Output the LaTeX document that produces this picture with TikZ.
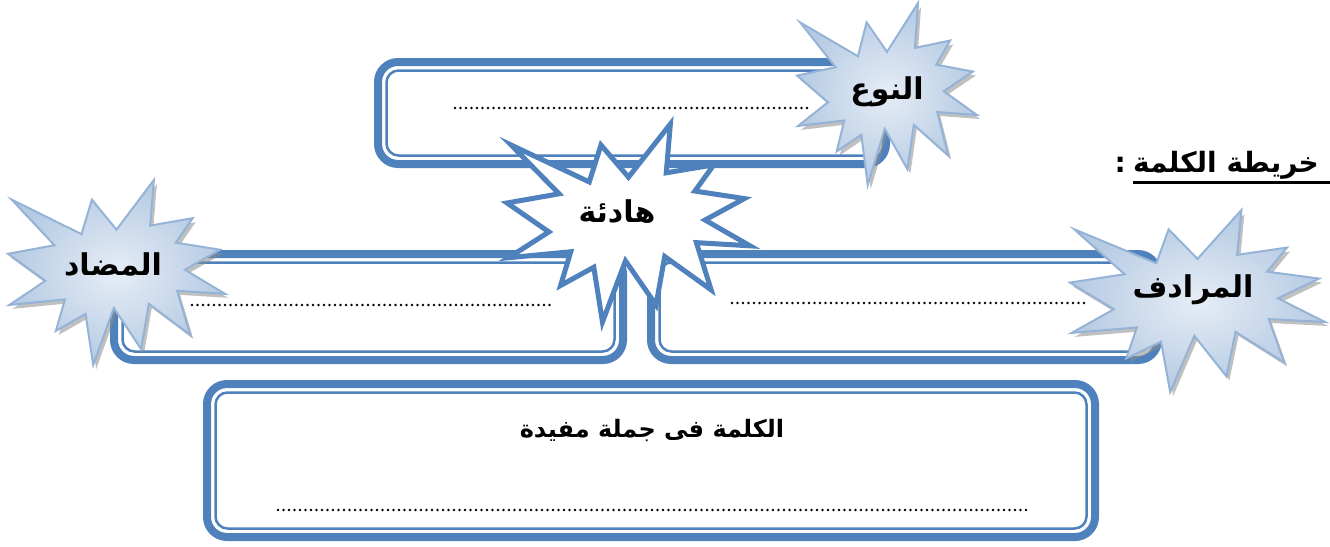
\documentclass[tikz,border=0pt]{standalone}
\usepackage{fontspec}
\newfontfamily\arabicfont[Script=Arabic]{DejaVu Sans}
\TeXXeTstate=1
\usetikzlibrary{positioning}

\definecolor{boxblue}{HTML}{4F81BD}
\definecolor{starline}{HTML}{95B3D7}
\definecolor{starlight}{HTML}{E6EDF6}
\definecolor{stardark}{HTML}{B5CAE3}

% explosion outline, 1000 x 1000 units
\newcommand\sealpath{(500,268.5) -- (672.3,0) -- (655.3,246.5) -- (850.9,206.3)
  -- (773.2,338.7) -- (976.7,376.7) -- (815.1,485) -- (1000,615.3) -- (779.5,599.2)
  -- (840,837.7) -- (649.1,669.3) -- (613.3,913.8) -- (487.6,691.4) -- (392.8,1000)
  -- (357.2,723.5) -- (220.5,815.6) -- (262.4,645.2) -- (6.25,675.3) -- (172.3,545.1)
  -- (0,398.8) -- (214.2,352.6) -- (17.1,106.3) -- (338.5,292.6) -- (386.7,106.3) -- cycle}

\tikzset{
  boxout/.style={draw=boxblue, line width=8pt, rounded corners=20pt},
  boxin/.style={draw=boxblue, line width=2.5pt, rounded corners=12pt},
  fillin/.style={dash pattern=on 0pt off 5.5pt, line cap=round, line width=2.8pt},
  bluestar/.style={draw=starline, line width=2pt, inner color=starlight, outer color=stardark},
  starshadow/.style={fill=black!45, opacity=.55},
  whitestar/.style={draw=boxblue, line width=5pt, fill=white},
  starlabel/.style={font=\arabicfont\bfseries\fontsize{30}{34}\selectfont, inner sep=0pt},
  boxlabel/.style={font=\arabicfont\bfseries\fontsize{24}{28}\selectfont, inner sep=0pt},
  headlabel/.style={font=\arabicfont\bfseries\fontsize{28}{32}\selectfont, inner sep=0pt},
}

\begin{document}
\begin{tikzpicture}[x=1pt, y=-1pt]
    \useasboundingbox (0,0) rectangle (1330,546);
    % double-lined boxes
    \foreach \xa/\ya/\xb/\yb in {374/58/890/168, 110/250/627/364, 647/250/1162/364, 203/380/1099/541} {
        \draw[boxout] (\xa+4,\ya+4) rectangle (\xb-4,\yb-4);
        \draw[boxin] (\xa+12.5,\ya+12.5) rectangle (\xb-12.5,\yb-12.5);
    }
    % lines to write on
    \draw[fillin] (455,108) -- (812,108);
    \draw[fillin] (192,305) -- (550,305);
    \draw[fillin] (732,303) -- (1087,303);
    \draw[fillin] (278,510) -- (1027,510);

    % the word
    \path[whitestar, shift={(507,124)}, xscale=.243, yscale=.198] \sealpath;
    \node[starlabel] (word) at (617,212) {\beginR هادئة\endR};

    % kind, opposite, synonym
    \fill[starshadow, shift={(800,7)}, xscale=.180, yscale=.182] \sealpath;
    \path[bluestar, shift={(797,3)}, xscale=.180, yscale=.182] \sealpath;
    \node[starlabel] (kind) at (887,92) {\beginR النوع\endR};

    \fill[starshadow, shift={(11,184)}, xscale=.217, yscale=.185] \sealpath;
    \path[bluestar, shift={(8,180)}, xscale=.217, yscale=.185] \sealpath;
    \node[starlabel] (opposite) at (113,265) {\beginR المضاد\endR};

    \fill[starshadow, shift={(1073,214)}, xscale=.255, yscale=.182] \sealpath;
    \path[bluestar, shift={(1070,210)}, xscale=.255, yscale=.182] \sealpath;
    \node[starlabel] (synonym) at (1193,290) {\beginR المرادف\endR};

    % sentence box title
    \node[boxlabel] (sentence) at (652,430) {\beginR الكلمة فى جملة مفيدة\endR};

    % heading
    \node[headlabel, anchor=base west] (mapttl) at (1133,172) {\beginR خريطة الكلمة\endR};
    \node[headlabel, anchor=base east] (colon) at (1126,172) {:};
    \draw[line width=3pt] (1133,182) -- (1330,182);
\end{tikzpicture}
\end{document}
